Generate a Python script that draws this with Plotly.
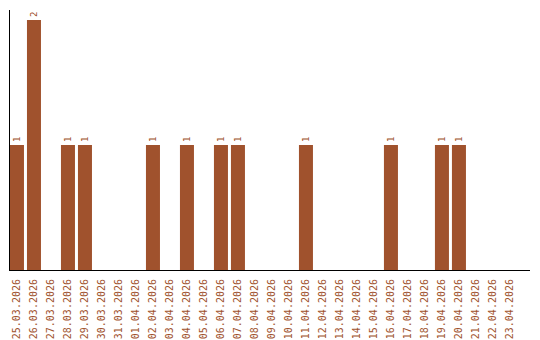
import plotly.graph_objects as go

dates = ["25.03.2026", "26.03.2026", "27.03.2026", "28.03.2026", "29.03.2026",
         "30.03.2026", "31.03.2026", "01.04.2026", "02.04.2026", "03.04.2026",
         "04.04.2026", "05.04.2026", "06.04.2026", "07.04.2026", "08.04.2026",
         "09.04.2026", "10.04.2026", "11.04.2026", "12.04.2026", "13.04.2026",
         "14.04.2026", "15.04.2026", "16.04.2026", "17.04.2026", "18.04.2026",
         "19.04.2026", "20.04.2026", "21.04.2026", "22.04.2026", "23.04.2026"]
counts = [1, 2, 0, 1, 1, 0, 0, 0, 1, 0, 1, 0, 1, 1, 0, 0, 0, 1, 0, 0, 0, 0,
          1, 0, 0, 1, 1, 0, 0, 0]

color = "#A0522D"
labels = [str(v) if v > 0 else "" for v in counts]

fig = go.Figure(go.Bar(
    x=dates, y=counts, marker_color=color, marker_line_width=0,
    text=labels, textposition="outside", textangle=-90,
    textfont=dict(family="DejaVu Sans Mono", size=9, color=color),
    cliponaxis=False,
))
fig.update_layout(
    width=540, height=340,
    margin=dict(l=10, r=10, t=10, b=70, autoexpand=False),
    plot_bgcolor="white", paper_bgcolor="white",
    bargap=0.176, showlegend=False,
)
fig.update_xaxes(
    type="category", range=[-0.41, 30.18], automargin=False,
    tickangle=-90, tickfont=dict(family="DejaVu Sans Mono", size=10, color=color),
    showline=True, linecolor="black", linewidth=1, showgrid=False,
    ticks="outside", ticklen=4, tickcolor="rgba(0,0,0,0)",
)
fig.update_yaxes(
    range=[0, 2.08], showline=True, linecolor="black", linewidth=1,
    showgrid=False, showticklabels=False, ticks="", zeroline=False,
    automargin=False,
)
fig.write_html("out.html")
